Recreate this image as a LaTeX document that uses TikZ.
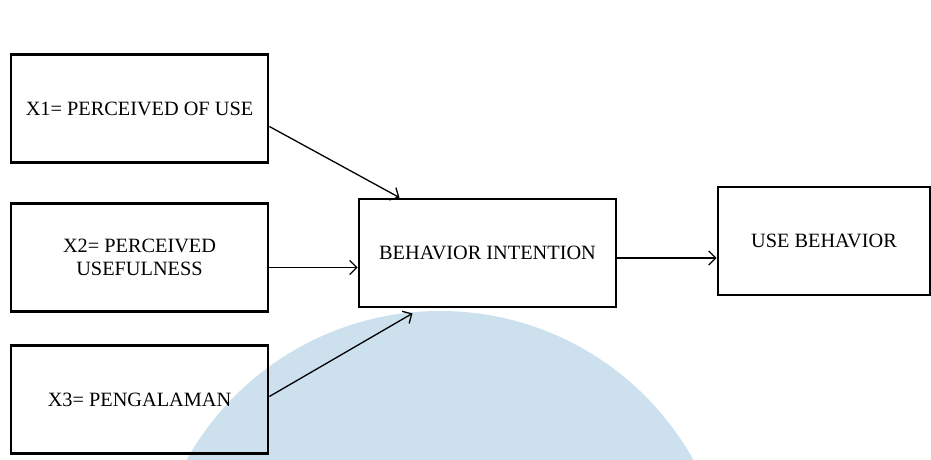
\documentclass[tikz,border=0pt]{standalone}
\usepackage{fontspec}
\setmainfont{Liberation Serif}
\usepackage{xcolor}
\usetikzlibrary{arrows,arrows.meta,positioning}
\definecolor{wmblue}{RGB}{204, 224, 238}

\begin{document}
\begin{tikzpicture}[x=1pt, y=1pt,
            varbox/.style={draw, line width=2.8pt, minimum width=257pt, minimum height=108pt, inner sep=0pt, align=center, font=\fontsize{20.3}{23}\selectfont},
            link/.style={->, line width=1.3pt, >={Straight Barb[length=7pt, width=14pt]}}]
            \useasboundingbox (0,0) rectangle (931,460);

            % Watermark
            \begin{scope}
                \clip (0,0) rectangle (931,460);
                \fill[wmblue] (440,-141) circle (290pt);
            \end{scope}

            % Boxes
            \node[varbox] (x1) at (139.5,351.5) {X1= PERCEIVED OF USE};
            \node[varbox] (x2) at (139.5,202.5) {X2= PERCEIVED\\USEFULNESS};
            \node[varbox] (x3) at (139.5,60.5) {X3= PENGALAMAN};
            \node[varbox] (bi) at (487.5,207) {BEHAVIOR INTENTION};
            \node[varbox, minimum width=212pt] (ub) at (824,219) {USE BEHAVIOR};

            % Arrows
            \draw[link] ([yshift=-18pt]x1.east) -- ([xshift=-88pt]bi.north);
            \draw[link] ([yshift=-10pt]x2.east) -- ([yshift=-10pt]x2.east -| bi.west);
            \draw[link] ([yshift=3pt]x3.east) -- ([xshift=-75pt, yshift=-5pt]bi.south);
            \draw[link] ([yshift=-5pt]bi.east) -- ([yshift=-5pt]bi.east -| ub.west);
\end{tikzpicture}
\end{document}
